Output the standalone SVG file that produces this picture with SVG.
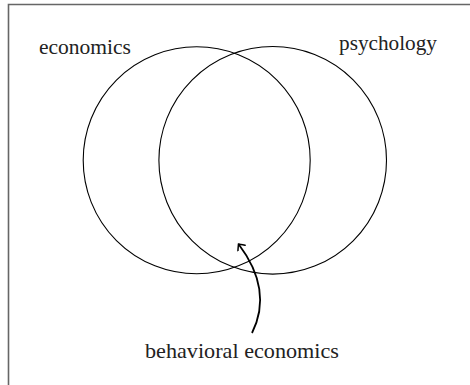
<svg xmlns="http://www.w3.org/2000/svg" width="470" height="385" viewBox="0 0 470 385">
<defs>
<style>
.frame{fill:none;stroke:#666;stroke-width:1.6}
.circ{fill:none;stroke:#000;stroke-width:1.1}
.lbl{font-size:21px;fill:#222}
.conn{fill:none;stroke:#000;stroke-width:1.8}
</style>
<marker id="arr" viewBox="-6 -6 8 12" markerWidth="8" markerHeight="12" markerUnits="userSpaceOnUse" orient="auto" refX="0" refY="0">
<path d="M-5,-4.5 Q-1,-1 0,0 Q-1,1 -5,4.5" fill="none" stroke="#000" stroke-width="1.5" stroke-linecap="round"/>
</marker>
</defs>
<rect width="470" height="385" fill="#fff"/>
<path class="frame" d="M8.5,385 V4.5 H470"/>
<g id="economics">
<circle class="circ" cx="196.7" cy="160.3" r="113.5"/>
<text class="lbl" font-family="Liberation Serif, DejaVu Serif, serif" x="39" y="54" textLength="92" lengthAdjust="spacingAndGlyphs">economics</text>
</g>
<g id="psychology">
<circle class="circ" cx="272.7" cy="160.3" r="113.8"/>
<text class="lbl" font-family="Liberation Serif, DejaVu Serif, serif" x="339" y="50" textLength="98" lengthAdjust="spacingAndGlyphs">psychology</text>
</g>
<g id="behavioral-economics">
<text class="lbl" font-family="Liberation Serif, DejaVu Serif, serif" x="145" y="358" textLength="194" lengthAdjust="spacingAndGlyphs">behavioral economics</text>
</g>
<g id="connectors">
<path class="conn" d="M252,333 C266,305 262,275 238.5,244" marker-end="url(#arr)"/>
</g>
</svg>
